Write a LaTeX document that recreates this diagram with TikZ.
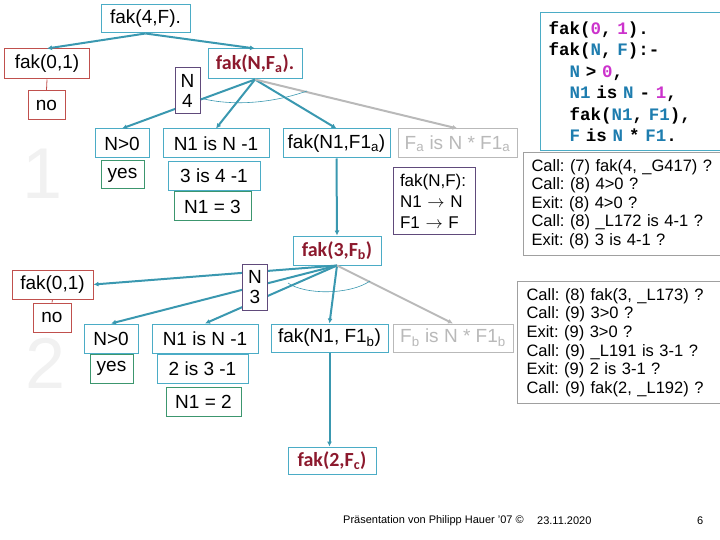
\documentclass[tikz,border=0pt]{standalone}
\usepackage{fontspec}
\setmainfont{Liberation Sans}
\setmonofont{Liberation Mono}
\newfontfamily\callfont{Carlito}
\usetikzlibrary{positioning}
\usetikzlibrary{arrows.meta}

\definecolor{boxteal}{RGB}{75,172,198}
\definecolor{edgeteal}{RGB}{58,152,176}
\definecolor{failred}{RGB}{192,80,77}
\definecolor{okgreen}{RGB}{60,150,110}
\definecolor{bindpurple}{RGB}{96,74,123}
\definecolor{pendgray}{RGB}{185,185,185}
\definecolor{callred}{RGB}{140,25,45}
\definecolor{numpink}{RGB}{204,51,204}
\definecolor{varblue}{RGB}{30,125,175}
\definecolor{faint}{RGB}{241,241,241}
\definecolor{tracegray}{RGB}{160,160,160}

\newcommand{\boxfont}{\fontsize{19}{20}\selectfont}
\newcommand{\pvar}[1]{\textcolor{varblue}{#1}}
\newcommand{\pnum}[1]{\textcolor{numpink}{#1}}
\frenchspacing

\begin{document}
\begin{tikzpicture}[x=1pt, y=-1pt,
    every node/.style={draw, fill=white, inner sep=1pt, minimum height=29pt, font=\boxfont},
    goal/.style={draw=boxteal, line width=1pt},
    call/.style={goal, text=callred, font={\callfont\bfseries\fontsize{20}{22}\selectfont}},
    fail/.style={draw=failred, line width=1pt},
    okay/.style={draw=okgreen, line width=1pt},
    bind/.style={draw=bindpurple, line width=1pt, align=center, minimum width=25pt, minimum height=46pt, inner sep=0pt},
    pend/.style={draw=pendgray, text=pendgray, line width=1pt},
    textbox/.style={anchor=north west, align=left, line width=1pt},
    link/.style={draw=edgeteal, line width=2pt, -{Latex[length=5pt,width=5pt]}},
    plink/.style={draw=pendgray, line width=2pt, -{Latex[length=5pt,width=5pt]}},
    failline/.style={draw=failred, line width=0.8pt},
    andarc/.style={draw=edgeteal, line width=0.6pt},
    plain/.style={draw=none, fill=none, inner sep=0pt, minimum height=0pt}]

    % Fix the page size
    \useasboundingbox (0,0) rectangle (720,540);

    % Faint level numbers
    \node[plain, text=faint, font=\fontsize{72}{72}\selectfont] (one) at (43,174) {1};
    \node[plain, text=faint, font=\fontsize{72}{72}\selectfont] (two) at (46,363) {2};

    % The query and its two clauses
    \node[goal, minimum width=89pt, minimum height=28pt] (top) at (145.5,19) {fak(4,F).};
    \node[fail, minimum width=85pt, minimum height=30pt] (zero1) at (47,64) {fak(0,1)};
    \node[fail, minimum width=37pt] (no1) at (46.5,105) {no};
    \node[call, minimum width=94pt, minimum height=30pt] (fa) at (255,64) {fak(N,F\textsubscript{a}).};

    % First level goals
    \node[goal, minimum width=54pt] (gt1) at (122,143.5) {N>0};
    \node[okay, minimum width=43pt, minimum height=28pt] (yes1) at (122.5,175) {yes};
    \node[goal, minimum width=106pt] (sub1) at (216,143.5) {N1 is N -1};
    \node[goal, minimum width=92pt] (is1) at (214,176) {3 is 4 -1};
    \node[okay, minimum width=77pt] (eq1) at (212.5,206.5) {N1 = 3};
    \node[goal, minimum width=107pt] (rec1) at (336.5,143.5) {fak(N1,F1\textsubscript{a})};
    \node[pend, minimum width=119pt] (mul1) at (457.5,143.5) {F\textsubscript{a} is N * F1\textsubscript{a}};
    \node[draw=bindpurple, line width=1pt, align=left, text width=68pt, inner xsep=7pt, minimum height=66pt,
          font=\fontsize{17}{21}\selectfont] (map) at (434,201) {fak(N,F):\\N1 $\rightarrow$ N\\F1 $\rightarrow$ F};

    % Second level goals
    \node[call, minimum width=88pt] (fb) at (337,250.5) {fak(3,F\textsubscript{b})};
    \node[fail, minimum width=81pt] (zero2) at (52.5,284.5) {fak(0,1)};
    \node[fail, minimum width=38pt] (no2) at (52,317.5) {no};
    \node[goal, minimum width=54pt] (gt2) at (111,338.5) {N>0};
    \node[okay, minimum width=43pt] (yes2) at (111.5,368.5) {yes};
    \node[goal, minimum width=106pt] (sub2) at (205,338.5) {N1 is N -1};
    \node[goal, minimum width=91pt] (is2) at (202.5,368.5) {2 is 3 -1};
    \node[okay, minimum width=75pt] (eq2) at (203.5,401.5) {N1 = 2};
    \node[goal, minimum width=117pt, minimum height=28pt] (rec2) at (329.5,338) {fak(N1, F1\textsubscript{b})};
    \node[pend, minimum width=120pt, minimum height=28pt] (mul2) at (453,338) {F\textsubscript{b} is N * F1\textsubscript{b}};
    \node[call, minimum width=88pt, minimum height=27pt] (fc) at (332,460.5) {fak(2,F\textsubscript{c})};

    % Program and trace boxes
    \node[textbox, draw=boxteal, text width=169pt, inner xsep=8pt, minimum height=138pt,
          font=\ttfamily\bfseries\fontsize{17.5}{21.5}\selectfont] (code) at (540,12)
        {fak(\pnum{0}, \pnum{1}).\\
         fak(\pvar{N}, \pvar{F}):-\\
         \hspace*{21pt}\pvar{N} > \pnum{0},\\
         \hspace*{21pt}\pvar{N1} is \pvar{N} - \pnum{1},\\
         \hspace*{21pt}fak(\pvar{N1}, \pvar{F1}),\\
         \hspace*{21pt}\pvar{F} is \pvar{N} * \pvar{F1}.};
    \node[textbox, draw=tracegray, text width=186pt, inner xsep=8pt, minimum height=103pt,
          font=\fontsize{16.5}{18.6}\selectfont] (trace1) at (523,152)
        {Call: (7) fak(4, \_G417) ?\\
         Call: (8) 4>0 ?\\
         Exit: (8) 4>0 ?\\
         Call: (8) \_L172 is 4-1 ?\\
         Exit: (8) 3 is 4-1 ?};
    \node[textbox, draw=tracegray, text width=190pt, inner xsep=9pt, minimum height=122pt,
          font=\fontsize{16.5}{18.6}\selectfont] (trace2) at (517,281)
        {Call: (8) fak(3, \_L173) ?\\
         Call: (9) 3>0 ?\\
         Exit: (9) 3>0 ?\\
         Call: (9) \_L191 is 3-1 ?\\
         Exit: (9) 2 is 3-1 ?\\
         Call: (9) fak(2, \_L192) ?};

    % Connectors of the first level
    \draw[link] (top.south) -- (zero1.north);
    \draw[link] (top.south) -- (fa.north);
    \draw[failline] (zero1.south) -- (no1.north);
    \draw[link] (fa.south) -- (gt1.north);
    \draw[link] (fa.south) -- (sub1.north);
    \draw[link] (fa.south) -- (rec1.north);
    \draw[plink] (fa.south) -- (mul1.north);
    \draw[link] (rec1.south) -- (fb.north);

    % Connectors of the second level
    \draw[link] (fb.south) -- (zero2.east);
    \draw[failline] (zero2.south) -- (no2.north);
    \draw[link] (fb.south) -- (gt2.north);
    \draw[link] (fb.south) -- (sub2.north);
    \draw[link] (fb.south) -- (rec2.north);
    \draw[plink] (fb.south) -- (mul2.north);
    \draw[link] (rec2.south) -- (rec2.south |- fc.north);

    % Bindings lie over the connectors
    \node[bind] (n4) at (187.5,91) {N\\4};
    \node[bind] (n3) at (255,287) {N\\3};
    \draw[andarc] (200,98) .. controls (230,106) and (270,104) .. (307,91);
    \draw[andarc] (288,283) .. controls (305,295) and (350,295) .. (370,281);

    % Footer
    \node[plain, anchor=west, font=\fontsize{11}{13}\selectfont] (credit) at (343,521) {Präsentation von Philipp Hauer '07 \textcopyright};
    \node[plain, anchor=west, font=\fontsize{11}{13}\selectfont] (date) at (537,521) {23.11.2020};
    \node[plain, anchor=west, font=\fontsize{11}{13}\selectfont] (page) at (697,521) {6};
\end{tikzpicture}
\end{document}
